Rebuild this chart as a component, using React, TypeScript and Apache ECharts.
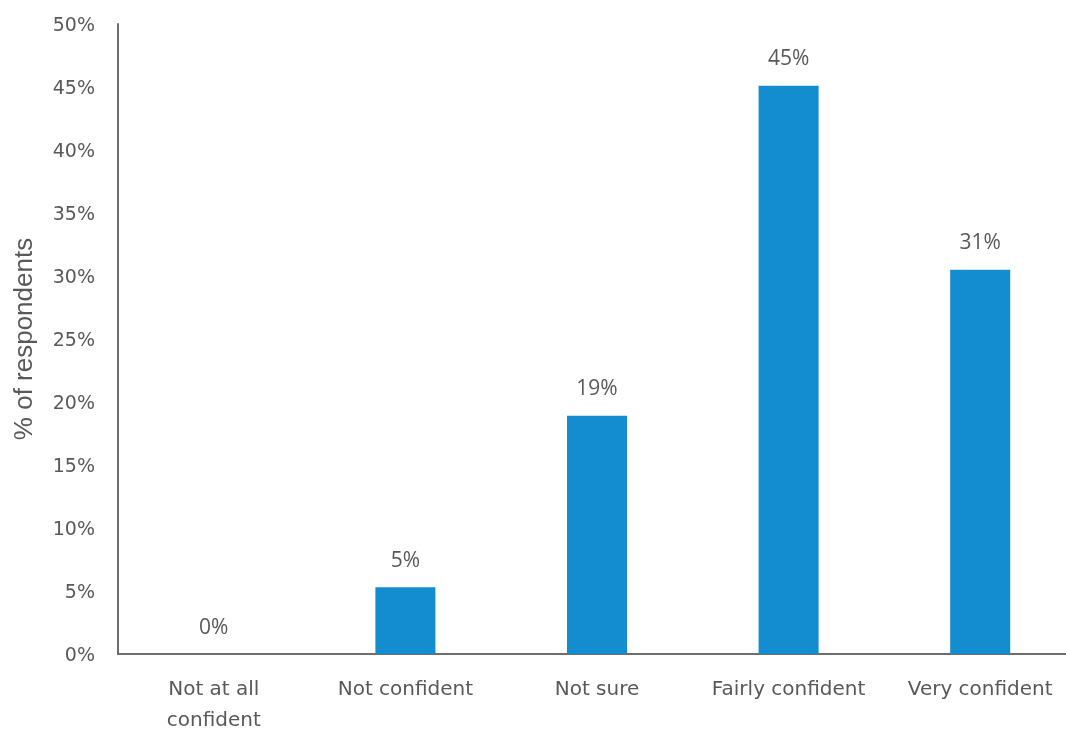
import React, { useEffect, useRef } from "react";
import * as echarts from "echarts";

const categories = ["Not at all\nconfident", "Not confident", "Not sure", "Fairly confident", "Very confident"];
const values = [0, 5.3, 18.9, 45.1, 30.5];
const yTicks = [0, 5, 10, 15, 20, 25, 30, 35, 40, 45, 50];

export default function App() {
  const ref = useRef<HTMLDivElement>(null);
  useEffect(() => {
    const chart = echarts.init(ref.current!, null, { renderer: "svg" });
    chart.setOption({
      animation: false,
      grid: { left: 118, top: 24, width: 958, height: 630, containLabel: false, outerBoundsMode: "none" },
      xAxis: {
        type: "category",
        data: categories,
        axisLine: { lineStyle: { color: "#6e6e6e", width: 2 } },
        axisTick: { show: false },
        axisLabel: {
          color: "#595959",
          fontSize: 20,
          fontFamily: "DejaVu Sans",
          margin: 18,
          lineHeight: 31,
          interval: 0,
        },
      },
      yAxis: {
        type: "value",
        min: yTicks[0],
        max: yTicks[yTicks.length - 1],
        interval: 5,
        name: "% of respondents",
        nameLocation: "middle",
        nameGap: 82,
        nameTextStyle: { color: "#595959", fontSize: 26, fontFamily: "Liberation Sans" },
        axisLine: { show: true, lineStyle: { color: "#6e6e6e", width: 2 } },
        axisTick: { show: false },
        splitLine: { show: false },
        axisLabel: {
          color: "#595959",
          fontSize: 19,
          fontFamily: "DejaVu Sans",
          margin: 23,
          formatter: (v: number) => v + "%",
        },
      },
      series: [
        {
          type: "bar",
          data: values,
          barWidth: 60,
          itemStyle: { color: "#138DCF" },
          label: {
            show: true,
            position: "top",
            distance: 18,
            color: "#595959",
            fontSize: 21,
            fontFamily: "Open Sans",
            formatter: (p: any) => Math.round(p.value) + "%",
          },
        },
      ],
    });
    return () => chart.dispose();
  }, []);
  return <div ref={ref} style={{ position: "fixed", left: 0, top: 0, width: 1066, height: 730 }} />;
}
